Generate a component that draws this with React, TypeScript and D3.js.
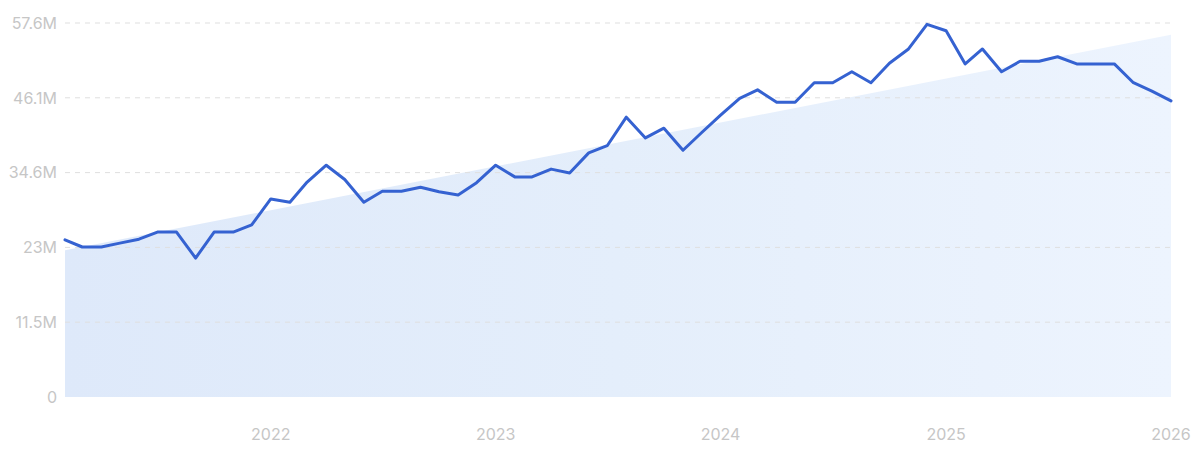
import React from "react";
import * as d3 from "d3";

const startMonth = new Date(2021, 1, 1);
const values: number[] = [
  24.2, 23.1, 23.1, 23.7, 24.3, 25.4, 25.4, 21.4, 25.4, 25.4, 26.5, 30.5,
  30.0, 33.1, 35.7, 33.5, 30.0, 31.7, 31.7, 32.3, 31.6, 31.1, 33.0, 35.7,
  33.9, 33.9, 35.1, 34.5, 37.6, 38.7, 43.1, 39.9, 41.4, 38.0, 40.7, 43.4,
  46.0, 47.3, 45.4, 45.4, 48.4, 48.4, 50.1, 48.4, 51.4, 53.6, 57.4, 56.4,
  51.3, 53.6, 50.1, 51.7, 51.7, 52.4, 51.3, 51.3, 51.3, 48.4, 47.1, 45.6,
];
const trendValues: number[] = [22.6, 55.8];
const yTicks: number[] = [0, 11.52, 23.04, 34.56, 46.08, 57.6];
const yTickLabels: string[] = ["0", "11.5M", "23M", "34.6M", "46.1M", "57.6M"];
const xTickYears: number[] = [2022, 2023, 2024, 2025, 2026];

const W = 1200;
const H = 454;
const M = { left: 65, right: 29, top: 23, bottom: 57 };

export default function App() {
  const dates = values.map((_, i) => d3.timeMonth.offset(startMonth, i));
  const x = d3
    .scaleTime()
    .domain([dates[0], dates[dates.length - 1]])
    .range([M.left, W - M.right]);
  const y = d3.scaleLinear().domain([0, 57.6]).range([H - M.bottom, M.top]);

  const line = d3
    .line<number>()
    .x((_, i) => x(dates[i]))
    .y((d) => y(d));

  const trendDates = [dates[0], dates[dates.length - 1]];
  const area = d3
    .area<number>()
    .x((_, i) => x(trendDates[i]))
    .y0(y(0))
    .y1((d) => y(d));

  const font = "Inter, 'Noto Sans', sans-serif";

  return (
    <svg
      width={W}
      height={H}
      style={{ position: "absolute", left: 0, top: 0, display: "block" }}
    >
      <defs>
        <linearGradient id="fillGrad" x1="0" y1="0" x2="1" y2="0">
          <stop offset="0%" stopColor="#dee9fa" />
          <stop offset="50%" stopColor="#e4eefb" />
          <stop offset="100%" stopColor="#edf4fe" />
        </linearGradient>
      </defs>
      <rect width={W} height={H} fill="#ffffff" />
      <path d={area(trendValues) || ""} fill="url(#fillGrad)" />
      {yTicks.map((t, i) => (
        <g key={i}>
          {i > 0 && (
            <line
              x1={M.left}
              x2={W - M.right}
              y1={y(t)}
              y2={y(t)}
              stroke="#dfdfdf"
              strokeWidth={1}
              strokeDasharray="5,5"
            />
          )}
          <text
            x={57}
            y={y(t)}
            dy="0.36em"
            textAnchor="end"
            fontFamily={font}
            fontSize={16}
            fill="#c6c6c6"
          >
            {yTickLabels[i]}
          </text>
        </g>
      ))}
      {xTickYears.map((yr) => (
        <text
          key={yr}
          x={x(new Date(yr, 0, 1))}
          y={440}
          textAnchor="middle"
          fontFamily={font}
          fontSize={16}
          fill="#c6c6c6"
        >
          {yr}
        </text>
      ))}
      <path
        d={line(values) || ""}
        fill="none"
        stroke="#3562d1"
        strokeWidth={3}
        strokeLinejoin="round"
        strokeLinecap="round"
      />
    </svg>
  );
}
